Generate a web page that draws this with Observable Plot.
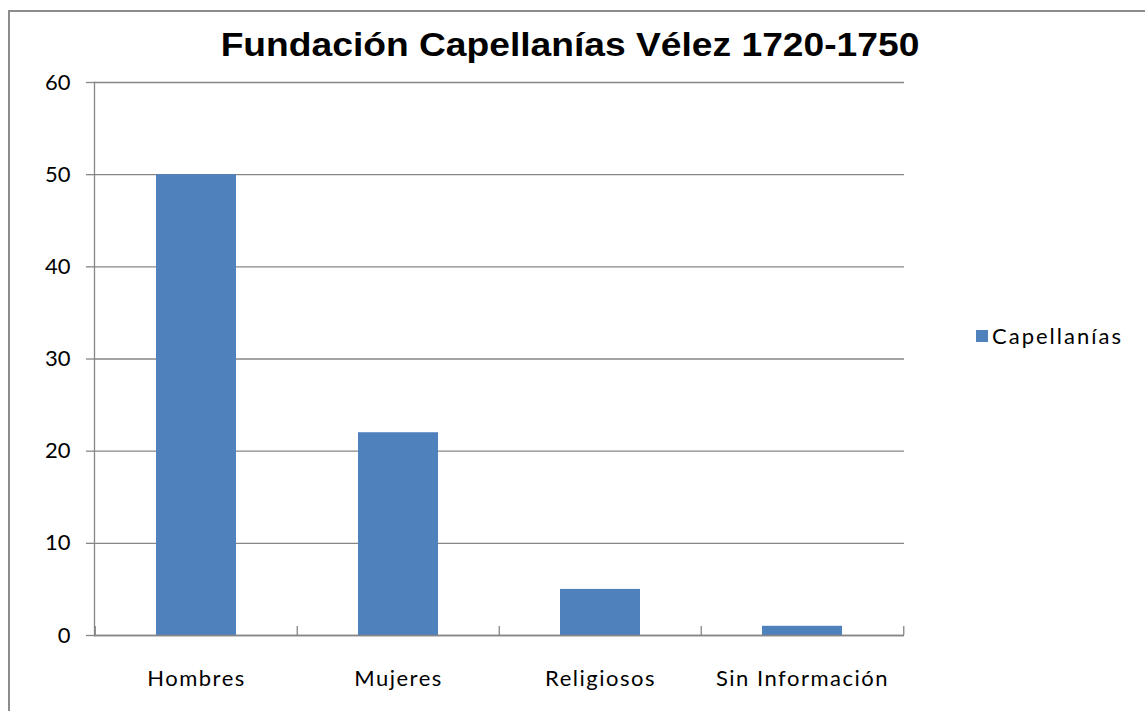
<!DOCTYPE html>
<html>
<head>
<meta charset="utf-8">
<script src="https://cdn.jsdelivr.net/npm/d3@7"></script>
<script src="https://cdn.jsdelivr.net/npm/@observablehq/plot@0.6"></script>
<style>
  html, body { margin: 0; padding: 0; background: #fff; }
  #wrap { position: relative; width: 1145px; height: 711px; overflow: hidden; }
  #frame { position: absolute; left: 8px; top: 10px; width: 1160px; height: 720px; border: 2px solid #8c8c8c; box-sizing: border-box; }
  #title { position: absolute; left: 570px; top: 26px; white-space: nowrap; font: bold 33px "Liberation Sans", Arial, sans-serif; color: #000; transform: translateX(-50%) scaleX(1.127); transform-origin: center; }
  #chart { position: absolute; left: 0; top: 0; }
  #chart g[aria-label="x-axis tick label"] text { letter-spacing: 1.5px; }
  #legend { position: absolute; left: 976px; top: 322px; font: 22px Lato, sans-serif; letter-spacing: 2px; color: #000; display: flex; align-items: center; }
  #legend .sw { width: 12px; height: 12px; background: #4f81bd; margin-right: 4px; }
</style>
</head>
<body>
<div id="wrap">
  <div id="frame"></div>
  <div id="title">Fundación Capellanías Vélez 1720-1750</div>
  <div id="chart"></div>
  <div id="legend"><span class="sw"></span><span>Capellanías</span></div>
</div>
<script>
const categories = ["Hombres", "Mujeres", "Religiosos", "Sin Información"];
const values = [50, 22, 5, 1];
const seriesName = "Capellanías";
const yTicks = [0, 10, 20, 30, 40, 50, 60];

const data = categories.map((c, i) => ({category: c, value: values[i]}));
const gray = "#868686";
const step = (904 - 94) / categories.length;

const chart = Plot.plot({
  width: 1145,
  height: 711,
  marginLeft: 94,
  marginRight: 241,
  marginTop: 82,
  marginBottom: 76,
  style: {fontFamily: "Lato, sans-serif", fontSize: "22px", color: "#000", background: "transparent"},
  x: {domain: categories, paddingInner: 0.605, paddingOuter: 0.3025},
  y: {domain: [0, 60]},
  marks: [
    Plot.gridY(yTicks, {stroke: gray, strokeOpacity: 1, strokeWidth: 1.3}),
    Plot.frame({anchor: "left", stroke: gray, strokeWidth: 1.3}),
    Plot.barY(data, {x: "category", y: "value", fill: "#4f81bd"}),
    Plot.ruleY([0], {stroke: gray, strokeWidth: 1.3}),
    Plot.ruleX(categories, {x: d => d, y1: 0, y2: 0, insetTop: -9, dx: -step / 2, stroke: gray, strokeWidth: 1.3}),
    Plot.ruleX(categories.slice(-1), {x: d => d, y1: 0, y2: 0, insetTop: -9, dx: step / 2, stroke: gray, strokeWidth: 1.3}),
    Plot.axisY(yTicks, {tickSize: 8, tickPadding: 16, stroke: gray, strokeWidth: 1.3, fill: "#000", label: null}),
    Plot.axisX({tickSize: 0, tickPadding: 35, fill: "#000", label: null})
  ]
});
document.getElementById("chart").appendChild(chart);
</script>
</body>
</html>
